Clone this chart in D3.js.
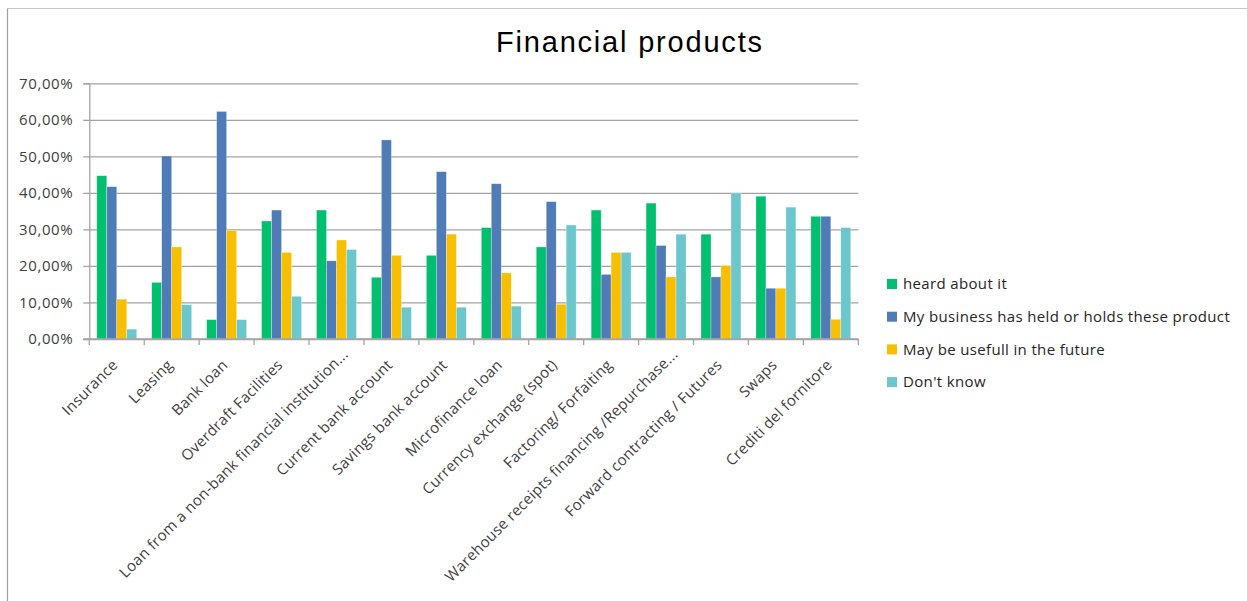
<!DOCTYPE html>
<html>
<head>
<meta charset="utf-8">
<script src="https://cdn.jsdelivr.net/npm/d3@7"></script>
<style>
  html, body { margin: 0; padding: 0; background: #fff; }
  svg { display: block; }
</style>
</head>
<body>
<svg id="chart" width="1247" height="601"></svg>
<script>
// Product categories along the x axis
const categories = [
  "Insurance", "Leasing", "Bank loan", "Overdraft Facilities",
  "Loan from a non-bank financial institution...", "Current bank account",
  "Savings bank account", "Microfinance loan", "Currency exchange (spot)",
  "Factoring/ Forfaiting", "Warehouse receipts financing /Repurchase...",
  "Forward contracting / Futures", "Swaps", "Crediti del fornitore"
];

// Series names (legend order)
const seriesNames = [
  "heard about it",
  "My business has held or holds these product",
  "May be usefull in the future",
  "Don't know"
];

// Share of respondents per category, one array per series
const heardAboutIt = [0.447, 0.155, 0.053, 0.323, 0.353, 0.169, 0.229, 0.305, 0.252, 0.353, 0.372, 0.287, 0.391, 0.336];
const heldProduct  = [0.417, 0.501, 0.623, 0.353, 0.214, 0.545, 0.458, 0.425, 0.376, 0.177, 0.256, 0.170, 0.139, 0.336];
const usefulFuture = [0.109, 0.252, 0.297, 0.237, 0.271, 0.229, 0.287, 0.181, 0.095, 0.237, 0.170, 0.201, 0.139, 0.054];
const dontKnow     = [0.027, 0.094, 0.053, 0.117, 0.245, 0.087, 0.087, 0.090, 0.312, 0.237, 0.287, 0.400, 0.361, 0.305];

const seriesValues = [heardAboutIt, heldProduct, usefulFuture, dontKnow];
const seriesColors = ["#00bf6f", "#4f7bb6", "#f8be00", "#6bc7cc"];

// Y axis tick values
const yTicks = [0, 0.1, 0.2, 0.3, 0.4, 0.5, 0.6, 0.7];

const svg = d3.select("#chart");

// Chart frame
svg.append("line").attr("x1", 7.5).attr("x2", 1247).attr("y1", 8.5).attr("y2", 8.5)
  .attr("stroke", "#c8c8c8").attr("stroke-width", 1);
svg.append("line").attr("x1", 7.5).attr("x2", 7.5).attr("y1", 8.5).attr("y2", 601)
  .attr("stroke", "#a0a0a0").attr("stroke-width", 1.2);

// Plot area
const plot = { left: 89.3, right: 858.3, top: 83.3, bottom: 339 };

const x0 = d3.scaleBand().domain(categories).range([plot.left, plot.right])
  .paddingInner(0).paddingOuter(0);
const x1 = d3.scaleBand().domain(seriesNames).range([0, x0.bandwidth()])
  .paddingInner(0).paddingOuter(0.75);
const y = d3.scaleLinear().domain([0, 0.7]).range([plot.bottom, plot.top]);

const pctLocale = d3.formatLocale({ decimal: ",", thousands: ".", grouping: [3], currency: ["", "€"] });
const fmt = pctLocale.format(".2%");

// Gridlines
const grid = svg.append("g")
  .attr("transform", `translate(${plot.left},0)`)
  .call(d3.axisLeft(y).tickValues(yTicks).tickSize(-(plot.right - plot.left)).tickFormat(""));
grid.select(".domain").remove();
grid.selectAll(".tick line").attr("stroke", "#a3a3a3").attr("stroke-width", 1.3);

// Y axis with small outside ticks and percentage labels
const yAxis = svg.append("g")
  .attr("transform", `translate(${plot.left},0)`)
  .call(d3.axisLeft(y).tickValues(yTicks).tickSize(6).tickFormat(fmt).tickPadding(10));
yAxis.select(".domain").attr("stroke", "#a3a3a3").attr("stroke-width", 1.3);
yAxis.selectAll(".tick line").attr("stroke", "#a3a3a3").attr("stroke-width", 1.3);
yAxis.selectAll(".tick text")
  .attr("font-family", "'Open Sans', sans-serif").attr("font-size", 15)
  .attr("letter-spacing", "0.6px")
  .attr("fill", "#404040");

// Bars
const groups = svg.append("g").selectAll("g")
  .data(categories)
  .join("g")
  .attr("transform", d => `translate(${x0(d)},0)`);

groups.selectAll("rect")
  .data((c, i) => seriesNames.map((s, k) => ({ s, v: seriesValues[k][i], k })))
  .join("rect")
  .attr("x", d => x1(d.s))
  .attr("width", x1.bandwidth())
  .attr("y", d => y(d.v))
  .attr("height", d => y(0) - y(d.v))
  .attr("fill", d => seriesColors[d.k])
  .attr("stroke", "#ffffff").attr("stroke-opacity", 0.5).attr("stroke-width", 0.6);

// X axis with category tick marks and rotated labels
const xAxis = svg.append("g")
  .attr("transform", `translate(0,${plot.bottom})`);
xAxis.append("line")
  .attr("x1", plot.left - 6).attr("x2", plot.right)
  .attr("stroke", "#a3a3a3").attr("stroke-width", 1.3);
const tickXs = d3.range(categories.length + 1).map(i => plot.left + i * x0.step());
xAxis.selectAll("line.tk").data(tickXs).join("line").attr("class", "tk")
  .attr("x1", d => d).attr("x2", d => d).attr("y1", 0).attr("y2", 6)
  .attr("stroke", "#a3a3a3").attr("stroke-width", 1.3);

// Truncated labels (ending with an ellipsis) sit a little further along their baseline
xAxis.selectAll("text").data(categories).join("text")
  .attr("transform", d => {
    const shift = d.endsWith("...") ? 15 : 0;
    return `translate(${x0(d) + x0.bandwidth() / 2 - 6},${19}) rotate(-45) translate(${shift},0)`;
  })
  .attr("text-anchor", "end")
  .attr("dy", "0.75em")
  .attr("font-family", "'Open Sans', sans-serif").attr("font-size", 15)
  .attr("letter-spacing", "0.25px")
  .attr("fill", "#404040")
  .text(d => d);

// Title
svg.append("text")
  .attr("x", 629).attr("y", 52)
  .attr("text-anchor", "middle")
  .attr("font-family", "'Liberation Sans', Arial, sans-serif").attr("font-size", 29)
  .attr("textLength", 266).attr("lengthAdjust", "spacing")
  .attr("fill", "#000")
  .text("Financial products");

// Legend
const legend = svg.append("g").attr("transform", "translate(887,284)");
const rows = legend.selectAll("g").data(seriesNames).join("g")
  .attr("transform", (d, i) => `translate(0,${i * 32.7})`);
rows.append("rect").attr("x", 0).attr("y", -5).attr("width", 10).attr("height", 10)
  .attr("fill", (d, i) => seriesColors[i]);
rows.append("text").attr("x", 16).attr("y", 0).attr("dy", "0.35em")
  .attr("font-family", "'Open Sans', sans-serif").attr("font-size", 15)
  .attr("letter-spacing", "0.35px")
  .attr("fill", "#262626")
  .text(d => d);
</script>
</body>
</html>
